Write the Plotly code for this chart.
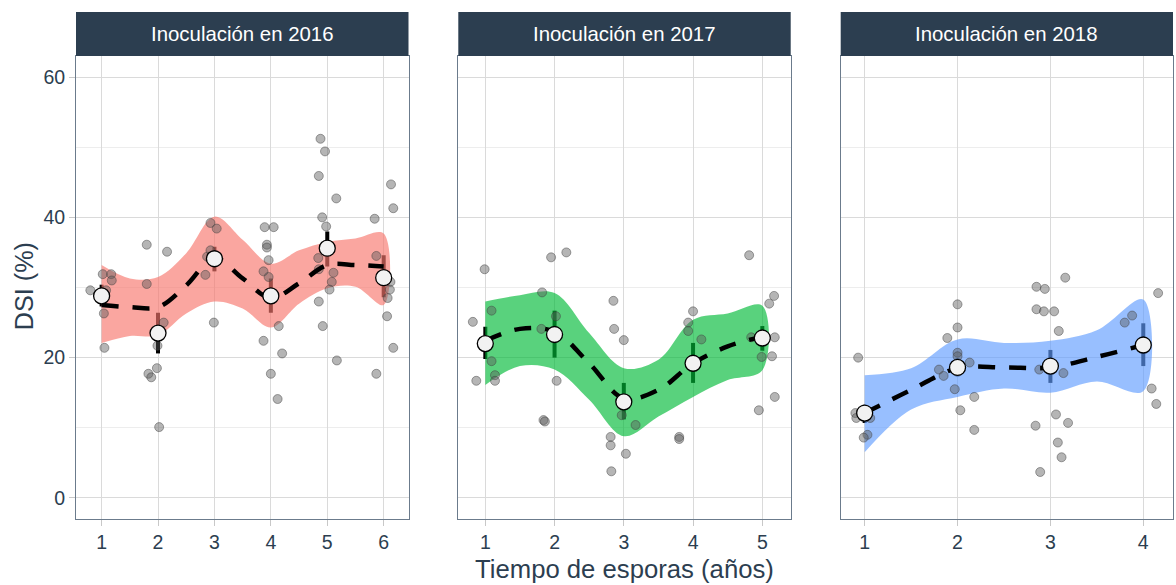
import plotly.graph_objects as go

# ---------------- data ----------------
panel_titles = ["Inoculación en 2016", "Inoculación en 2017", "Inoculación en 2018"]
ribbon_colors = ["rgba(248,118,109,0.65)", "rgba(0,186,56,0.65)", "rgba(97,156,255,0.65)"]

# panel 1 (2016)
p1_tick = [1, 2, 3, 4, 5, 6]
p1_mean = [28.8, 23.5, 34.1, 28.8, 35.6, 31.4]
p1_lo = [27.3, 20.6, 32.3, 26.4, 33.0, 28.6]
p1_hi = [30.4, 26.4, 35.8, 31.3, 38.0, 34.6]
p1_sx = [1, 1.5, 2, 2.5, 3, 3.5, 4, 4.5, 5, 5.5, 6]
p1_fit = [27.5, 27.2, 27.2, 30.3, 34.2, 31.3, 28.5, 30.6, 33.2, 33.2, 33.0]
p1_up = [33.2, 31.3, 31.5, 34.9, 40.1, 36.8, 33.4, 35.3, 36.5, 37.0, 37.7]
p1_dn = [22.1, 23.1, 23.2, 26.3, 28.0, 27.0, 24.3, 27.7, 29.9, 30.1, 27.5]
p1_jx = [0.80, 1.02, 1.17, 1.18, 1.08, 1.04, 1.05, 1.80, 1.80, 2.16, 2.10, 1.83, 1.88, 1.98, 1.99, 2.02,
         2.93, 3.04, 2.84, 2.87, 2.93, 2.99, 3.89, 4.05, 3.93, 3.93, 3.96, 3.87, 3.96, 4.14, 3.87, 4.20,
         4.00, 4.12, 4.88, 4.96, 4.85, 5.16, 4.91, 4.98, 4.84, 4.85, 5.11, 5.08, 5.04, 4.85, 4.92, 5.17,
         5.84, 6.13, 6.17, 5.87, 6.11, 6.12, 6.07, 6.06, 6.17, 5.87]
p1_jy = [29.6, 31.9, 31.9, 31.0, 29.6, 26.3, 21.4, 36.1, 30.5, 35.1, 25.0, 17.7, 17.2, 18.5, 21.7, 10.1,
         39.2, 38.4, 31.8, 34.4, 35.3, 25.0, 38.6, 38.6, 36.1, 35.7, 33.9, 32.3, 31.5, 24.5, 22.4, 20.6,
         17.7, 14.1, 51.2, 49.4, 45.9, 42.7, 40.0, 38.7, 34.2, 32.6, 32.1, 30.8, 29.7, 28.0, 24.5, 19.6,
         39.8, 44.7, 41.3, 34.5, 29.7, 30.8, 28.5, 25.9, 21.4, 17.7]

# panel 2 (2017)
p2_tick = [1, 2, 3, 4, 5]
p2_mean = [22.0, 23.3, 13.7, 19.2, 22.8]
p2_lo = [19.8, 20.0, 11.2, 16.4, 21.0]
p2_hi = [24.4, 26.7, 16.4, 22.1, 24.5]
p2_sx = [1, 1.5, 2, 2.5, 3, 3.5, 4, 4.5, 5]
p2_fit = [22.4, 24.1, 23.7, 19.2, 14.2, 15.4, 19.2, 21.6, 23.0]
p2_up = [28.0, 28.9, 29.2, 23.5, 18.5, 19.7, 25.4, 26.3, 27.4]
p2_dn = [16.1, 18.8, 18.3, 14.0, 8.8, 11.6, 14.4, 16.8, 18.2]
p2_jx = [0.99, 1.95, 2.17, 4.81, 1.82, 2.85, 5.17, 5.10, 0.82, 1.09, 1.81, 2.02, 2.86, 3.00, 4.00, 3.93,
         3.93, 4.12, 4.84, 5.18, 4.99, 5.14, 1.09, 0.87, 1.14, 1.14, 2.03, 5.18, 4.95, 1.84, 1.86, 2.97,
         3.17, 2.81, 2.81, 3.03, 2.82, 3.80, 3.80]
p2_jy = [32.6, 34.3, 35.0, 34.6, 29.3, 28.1, 28.8, 27.7, 25.1, 26.7, 24.1, 25.9, 24.1, 22.5, 26.6, 25.0,
         23.8, 22.6, 22.9, 22.9, 20.1, 20.2, 19.5, 16.7, 17.5, 16.7, 16.7, 14.4, 12.5, 11.1, 10.9, 11.8,
         10.4, 8.7, 7.5, 6.3, 3.8, 8.7, 8.4]

# panel 3 (2018)
p3_tick = [1, 2, 3, 4]
p3_mean = [12.1, 18.6, 18.8, 21.8]
p3_lo = [10.7, 17.3, 16.4, 18.8]
p3_hi = [13.3, 19.9, 21.1, 24.9]
p3_sx = [1, 1.5, 2, 2.5, 3, 3.5, 4]
p3_fit = [12.1, 15.4, 18.5, 18.6, 18.6, 20.1, 21.8]
p3_up = [17.5, 18.5, 22.6, 22.1, 22.4, 23.9, 28.3]
p3_dn = [6.5, 12.6, 14.4, 15.6, 15.0, 16.6, 15.2]
p3_jx = [2.85, 2.94, 3.16, 4.16, 0.93, 2.00, 2.00, 1.89, 2.00, 2.00, 2.13, 1.80, 1.85, 1.97, 2.18, 2.03,
         2.18, 2.85, 2.93, 3.04, 3.09, 2.88, 3.14, 3.06, 3.19, 2.84, 3.08, 3.12, 2.89, 3.80, 3.88, 4.09,
         4.14, 0.90, 0.91, 1.06, 1.03, 0.99, 0.96]
p3_jy = [30.1, 29.8, 31.4, 29.2, 20.0, 27.6, 24.3, 22.8, 20.7, 20.2, 19.3, 18.3, 17.4, 15.5, 14.4, 12.5,
         9.7, 26.9, 26.6, 26.6, 23.8, 18.3, 17.8, 11.9, 10.7, 10.3, 7.9, 5.8, 3.7, 25.0, 26.0, 15.6,
         13.4, 12.1, 11.4, 11.4, 9.0, 8.6, 12.2]

y_ticks = [0, 20, 40, 60]
x_title = "Tiempo de esporas (años)"
y_title = "DSI (%)"

panels = [
    (p1_tick, p1_mean, p1_lo, p1_hi, p1_sx, p1_fit, p1_up, p1_dn, p1_jx, p1_jy),
    (p2_tick, p2_mean, p2_lo, p2_hi, p2_sx, p2_fit, p2_up, p2_dn, p2_jx, p2_jy),
    (p3_tick, p3_mean, p3_lo, p3_hi, p3_sx, p3_fit, p3_up, p3_dn, p3_jx, p3_jy),
]

# ---------------- layout geometry ----------------
# body margin is removed by the post script, so figure coords = page coords
W, H = 1176, 585
ML = 76
MT = 56
MR = 3
MB = H - 518.7
PW = W - ML - MR
PH = H - MT - MB
px_domains = [(76, 408.5), (458.3, 790.7), (840.7, 1173)]
domains = [((a - ML) / PW, (b - ML) / PW) for a, b in px_domains]
x_ranges = [[0.546, 6.44], [0.61, 5.41], [0.742, 4.32]]
y_range = [-3.0, 63.0]

FONT = "Liberation Sans, Arial, sans-serif"
TXT = "#2C3E50"
BORDER = "#6B7B8C"

fig = go.Figure()

for i, (tk, mean, lo, hi, sx, fit, up, dn, jx, jy) in enumerate(panels):
    xa = "x" if i == 0 else f"x{i+1}"
    ya = "y" if i == 0 else f"y{i+1}"
    # error bars (drawn below ribbon)
    fig.add_trace(go.Scatter(
        x=tk, y=mean, mode="markers", xaxis=xa, yaxis=ya,
        marker=dict(size=1, opacity=0),
        error_y=dict(type="data", symmetric=False,
                     array=[h - m for h, m in zip(hi, mean)],
                     arrayminus=[m - l for m, l in zip(mean, lo)],
                     color="black", thickness=4, width=0),
        showlegend=False, hoverinfo="skip"))
    # ribbon
    fig.add_trace(go.Scatter(
        x=sx + sx[::-1], y=up + dn[::-1], mode="lines", xaxis=xa, yaxis=ya,
        fill="toself", fillcolor=ribbon_colors[i],
        line=dict(width=0, shape="spline", smoothing=1),
        showlegend=False, hoverinfo="skip"))
    # jittered raw points
    fig.add_trace(go.Scatter(
        x=jx, y=jy, mode="markers", xaxis=xa, yaxis=ya,
        marker=dict(size=9, color="rgba(90,90,90,0.45)",
                    line=dict(width=1, color="rgba(60,60,60,0.45)")),
        showlegend=False, hoverinfo="skip"))
    # smooth dashed line
    fig.add_trace(go.Scatter(
        x=sx, y=fit, mode="lines", xaxis=xa, yaxis=ya,
        line=dict(color="black", width=4.5, dash="17px,14px", shape="spline", smoothing=1),
        showlegend=False, hoverinfo="skip"))
    # means
    fig.add_trace(go.Scatter(
        x=tk, y=mean, mode="markers", xaxis=xa, yaxis=ya,
        marker=dict(size=16, color="#F2F2F2", line=dict(width=1.3, color="black")),
        showlegend=False, hoverinfo="skip"))

layout = dict(
    width=W, height=H,
    margin=dict(l=ML, r=MR, t=MT, b=MB, autoexpand=False),
    paper_bgcolor="white", plot_bgcolor="white",
    font=dict(family=FONT, color=TXT),
    showlegend=False,
)

for i in range(3):
    xk = "xaxis" if i == 0 else f"xaxis{i+1}"
    yk = "yaxis" if i == 0 else f"yaxis{i+1}"
    xa_anchor = "y" if i == 0 else f"y{i+1}"
    ya_anchor = "x" if i == 0 else f"x{i+1}"
    layout[xk] = dict(
        domain=list(domains[i]), anchor=xa_anchor, range=x_ranges[i],
        tickmode="array", tickvals=panels[i][0], ticktext=[str(v) for v in panels[i][0]],
        showgrid=True, gridcolor="#DADADA", gridwidth=1,
        zeroline=False, showline=True, linecolor=BORDER, linewidth=1, mirror=True,
        ticks="outside", ticklen=6, tickcolor="#C8C8C8", tickwidth=1,
        tickfont=dict(size=19.5, color=TXT, family=FONT),
    )
    layout[yk] = dict(
        domain=[0, 1], anchor=ya_anchor, range=y_range,
        tickmode="array", tickvals=y_ticks,
        ticktext=[str(v) for v in y_ticks] if i == 0 else ["" for _ in y_ticks],
        showticklabels=(i == 0),
        showgrid=True, gridcolor="#DADADA", gridwidth=1,
        minor=dict(tickmode="array", tickvals=[10, 30, 50], showgrid=True,
                   gridcolor="#EDEDED", gridwidth=1, ticks=""),
        zeroline=False, showline=True, linecolor=BORDER, linewidth=1, mirror=True,
        ticks="outside" if i == 0 else "", ticklen=6, tickcolor="#C8C8C8", tickwidth=1,
        tickfont=dict(size=19.5, color=TXT, family=FONT),
    )
    if i > 0:
        layout[yk]["matches"] = "y"

strip_h = (MT - 12) / PH
shapes = []
annotations = []
for i, (d0, d1) in enumerate(domains):
    shapes.append(dict(type="rect", xref="paper", yref="paper",
                       x0=d0, x1=d1, y0=1.0, y1=1.0 + strip_h,
                       fillcolor="#2C3E50", line=dict(width=0), layer="above"))
    annotations.append(dict(text=panel_titles[i], xref="paper", yref="paper",
                            x=(d0 + d1) / 2, y=1.0 + strip_h / 2,
                            xanchor="center", yanchor="middle", showarrow=False,
                            font=dict(size=20.4, color="white", family=FONT)))

annotations.append(dict(text=x_title, xref="paper", yref="paper",
                        x=(624 - ML) / PW, y=-(569 - (MT + PH)) / PH,
                        xanchor="center", yanchor="middle", showarrow=False,
                        font=dict(size=25.7, color=TXT, family=FONT)))
annotations.append(dict(text=y_title, xref="paper", yref="paper",
                        x=(24 - ML) / PW, y=1 - (286 - MT) / PH,
                        xanchor="center", yanchor="middle", showarrow=False, textangle=-90,
                        font=dict(size=25.2, color=TXT, family=FONT)))

layout["shapes"] = shapes
layout["annotations"] = annotations
fig.update_layout(**layout)

fig.write_html(
    "out.html",
    config={"displayModeBar": False, "staticPlot": True},
    post_script=("document.documentElement.style.overflow='hidden';"
                 "document.body.style.overflow='hidden';"
                 "document.body.style.margin='0';document.body.style.padding='0';"),
)
